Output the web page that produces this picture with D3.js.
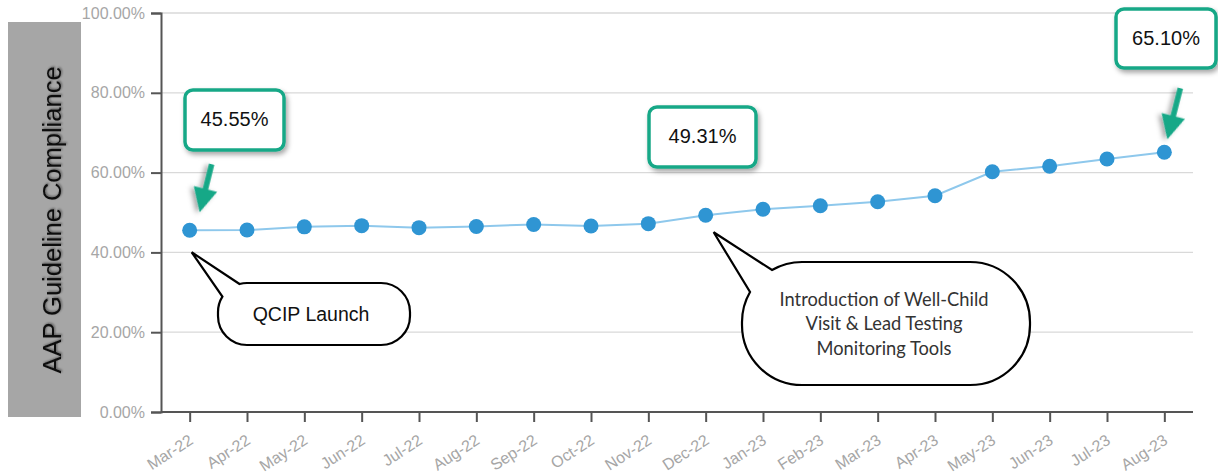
<!DOCTYPE html>
<html>
<head>
<meta charset="utf-8">
<script src="https://cdn.jsdelivr.net/npm/d3@7"></script>
<style>
  body { margin: 0; background: #fff; }
  svg { display: block; font-family: Arial, "Liberation Sans", sans-serif; }
</style>
</head>
<body>
<div id="vis"></div>
<script>
// chart values
const months = ['Mar-22','Apr-22','May-22','Jun-22','Jul-22','Aug-22','Sep-22','Oct-22','Nov-22',
                'Dec-22','Jan-23','Feb-23','Mar-23','Apr-23','May-23','Jun-23','Jul-23','Aug-23']
const compliance = [45.55, 45.6, 46.4, 46.7, 46.2, 46.5, 47.0, 46.6, 47.2,
                    49.31, 50.8, 51.7, 52.7, 54.2, 60.2, 61.6, 63.4, 65.10]
const yTicks = [0, 20, 40, 60, 80, 100]
const yTitle = 'AAP Guideline Compliance'

// highlighted values (index into months)
const callouts = [
    {i: 0, label: '45.55%'},
    {i: 9, label: '49.31%'},
    {i: 17, label: '65.10%'}
]
const bubbleNotes = [
    {i: 0, lines: ['QCIP Launch']},
    {i: 9, lines: ['Introduction of Well-Child', 'Visit & Lead Testing', 'Monitoring Tools']}
]

const W = 1218, H = 476
const plot = {left: 161, right: 1193, top: 13, bottom: 412}
const green = '#19a887'

let svg = d3.select('#vis').append('svg')
    .attr('width', W)
    .attr('height', H)

let defs = svg.append('defs')
let sh = defs.append('filter').attr('id', 'shadow')
    .attr('x', '-20%').attr('y', '-20%').attr('width', '140%').attr('height', '150%')
sh.append('feDropShadow').attr('dx', 2).attr('dy', 3).attr('stdDeviation', 2.5)
    .attr('flood-color', '#000').attr('flood-opacity', 0.35)
let tsh = defs.append('filter').attr('id', 'textShadow')
tsh.append('feDropShadow').attr('dx', 1).attr('dy', 1).attr('stdDeviation', 1.2)
    .attr('flood-color', '#000').attr('flood-opacity', 0.45)

let x = d3.scalePoint(months, [plot.left, plot.right]).padding(0.5)
let y = d3.scaleLinear([0, 100], [plot.bottom, plot.top])

// y title box
svg.append('rect')
    .attr('x', 8).attr('y', 22)
    .attr('width', 73).attr('height', 395)
    .attr('fill', '#a6a6a6')
svg.append('text')
    .attr('transform', 'translate(61,220) rotate(-90)')
    .attr('text-anchor', 'middle')
    .attr('font-size', 25.5)
    .attr('fill', '#111')
    .attr('filter', 'url(#textShadow)')
    .text(yTitle)

// gridlines
svg.append('g')
    .selectAll('line')
    .data(yTicks.filter(d => d > 0))
    .enter()
    .append('line')
        .attr('x1', plot.left).attr('x2', plot.right)
        .attr('y1', d => y(d)).attr('y2', d => y(d))
        .attr('stroke', '#d9d9d9')
        .attr('stroke-width', 1.3)

// y axis
let yAxis = svg.append('g')
    .attr('transform', `translate(${plot.left},0)`)
    .call(d3.axisLeft(y).tickValues(yTicks).tickSize(10).tickPadding(6)
        .tickFormat(d => d.toFixed(2) + '%'))
yAxis.select('.domain').attr('stroke', '#555').attr('stroke-width', 2)
yAxis.selectAll('.tick line').attr('stroke', '#555').attr('stroke-width', 2)
yAxis.selectAll('.tick text')
    .attr('font-size', 16)
    .attr('fill', '#a6a6a6')
    .attr('font-family', 'Arial, "Liberation Sans", sans-serif')

// x axis
let xAxis = svg.append('g')
    .attr('transform', `translate(0,${plot.bottom})`)
    .call(d3.axisBottom(x).tickSize(10).tickSizeOuter(0))
xAxis.select('.domain').attr('stroke', '#555').attr('stroke-width', 2)
    .attr('d', `M${plot.left},0H${plot.right}`)
xAxis.selectAll('.tick line').attr('stroke', '#555').attr('stroke-width', 2)
xAxis.selectAll('.tick text')
    .attr('font-size', 16)
    .attr('fill', '#a6a6a6')
    .attr('font-family', 'Arial, "Liberation Sans", sans-serif')
    .attr('text-anchor', 'end')
    .attr('dy', null)
    .attr('y', null)
    .attr('transform', 'translate(4,31) rotate(-33)')

// line + points
let pts = months.map((m, i) => ({m: m, v: compliance[i]}))
svg.append('path')
    .datum(pts)
    .attr('fill', 'none')
    .attr('stroke', '#8ec8ec')
    .attr('stroke-width', 2)
    .attr('d', d3.line().x(d => x(d.m)).y(d => y(d.v)))
svg.append('g')
    .selectAll('circle')
    .data(pts)
    .enter()
    .append('circle')
        .attr('cx', d => x(d.m))
        .attr('cy', d => y(d.v))
        .attr('r', 7.5)
        .attr('fill', '#2f95d3')

// speech bubbles
// pill shaped box, tail starts on the top-left corner between angles a1 and a2
function bubblePath(bx, by, bw, bh, r, tip, a1, a2){
    let cx = bx + r, cy = by + r
    let pA = [cx - r * Math.cos(a1 * Math.PI / 180), cy - r * Math.sin(a1 * Math.PI / 180)]
    let pB = [cx - r * Math.cos(a2 * Math.PI / 180), cy - r * Math.sin(a2 * Math.PI / 180)]
    return `M${pA[0]},${pA[1]}` +
        `A${r},${r} 0 0 1 ${bx + r},${by}` +
        `H${bx + bw - r}` +
        `A${r},${r} 0 0 1 ${bx + bw},${by + r}` +
        `V${by + bh - r}` +
        `A${r},${r} 0 0 1 ${bx + bw - r},${by + bh}` +
        `H${bx + r}` +
        `A${r},${r} 0 0 1 ${bx},${by + bh - r}` +
        `V${by + r}` +
        `A${r},${r} 0 0 1 ${pB[0]},${pB[1]}` +
        `L${tip[0]},${tip[1]}Z`
}

let bubbleBoxes = [
    {bx: 218, by: 283, bw: 192, bh: 62, r: 29, a1: 75, a2: 32, dx: 2, dy: 22, size: 19.5, lh: 0, font: 'Arial, "Liberation Sans", sans-serif', col: '#111'},
    {bx: 742, by: 262, bw: 288, bh: 123, r: 60, a1: 60, a2: 30, dx: 8, dy: 17, size: 18.3, lh: 24.5, font: 'Lato, "Open Sans", sans-serif', col: '#333'}
]
bubbleNotes.forEach((n, k) => {
    let b = bubbleBoxes[k]
    let tip = [x(months[n.i]) + b.dx, y(compliance[n.i]) + b.dy]
    svg.append('path')
        .attr('d', bubblePath(b.bx, b.by, b.bw, b.bh, b.r, tip, b.a1, b.a2))
        .attr('fill', '#fff')
        .attr('stroke', '#000')
        .attr('stroke-width', 2.2)
        .attr('stroke-linejoin', 'miter')
    let cx = b.bx + b.bw / 2
    let cy = b.by + b.bh / 2 - (n.lines.length - 1) * b.lh / 2
    n.lines.forEach((t, j) => {
        svg.append('text')
            .attr('x', cx + (n.lines.length > 1 ? -2 : -3))
            .attr('y', cy + j * b.lh + 2)
            .attr('text-anchor', 'middle')
            .attr('dominant-baseline', 'middle')
            .attr('font-size', b.size)
            .attr('font-family', b.font)
            .attr('fill', b.col)
            .text(t)
    })
})

// green callout boxes and arrows
let calloutBoxes = [
    {bx: 185, by: 90, bw: 99, bh: 60, ax: [22, -66], tip: [10, -18]},
    {bx: 649, by: 107, bw: 107, bh: 60, ax: null},
    {bx: 1116, by: 9, bw: 100, bh: 59, ax: [16, -64], tip: [3, -13]}
]
callouts.forEach((c, k) => {
    let b = calloutBoxes[k]
    let g = svg.append('g').attr('filter', 'url(#shadow)')
    g.append('rect')
        .attr('x', b.bx).attr('y', b.by)
        .attr('width', b.bw).attr('height', b.bh)
        .attr('rx', 8)
        .attr('fill', '#fff')
        .attr('stroke', green)
        .attr('stroke-width', 3.5)
    svg.append('text')
        .attr('x', b.bx + b.bw / 2)
        .attr('y', b.by + b.bh / 2 + 1)
        .attr('text-anchor', 'middle')
        .attr('dominant-baseline', 'middle')
        .attr('font-size', 20)
        .attr('fill', '#111')
        .text(c.label)

    if (b.ax) {
        let px = x(months[c.i]), py = y(compliance[c.i])
        let end = [px + b.tip[0], py + b.tip[1]]
        let start = [px + b.ax[0], py + b.ax[1]]
        let ang = Math.atan2(end[1] - start[1], end[0] - start[0])
        let len = Math.hypot(end[0] - start[0], end[1] - start[1])
        let headL = 24, headW = 12, shaft = 2.8
        let ag = svg.append('g')
            .attr('filter', 'url(#shadow)')
            .attr('transform', `translate(${start[0]},${start[1]}) rotate(${ang * 180 / Math.PI})`)
        ag.append('path')
            .attr('d', `M0,${-shaft}L${len - headL},${-shaft}L${len - headL},${-headW}L${len},0` +
                `L${len - headL},${headW}L${len - headL},${shaft}L0,${shaft}Z`)
            .attr('fill', green)
    }
})
</script>
</body>
</html>
